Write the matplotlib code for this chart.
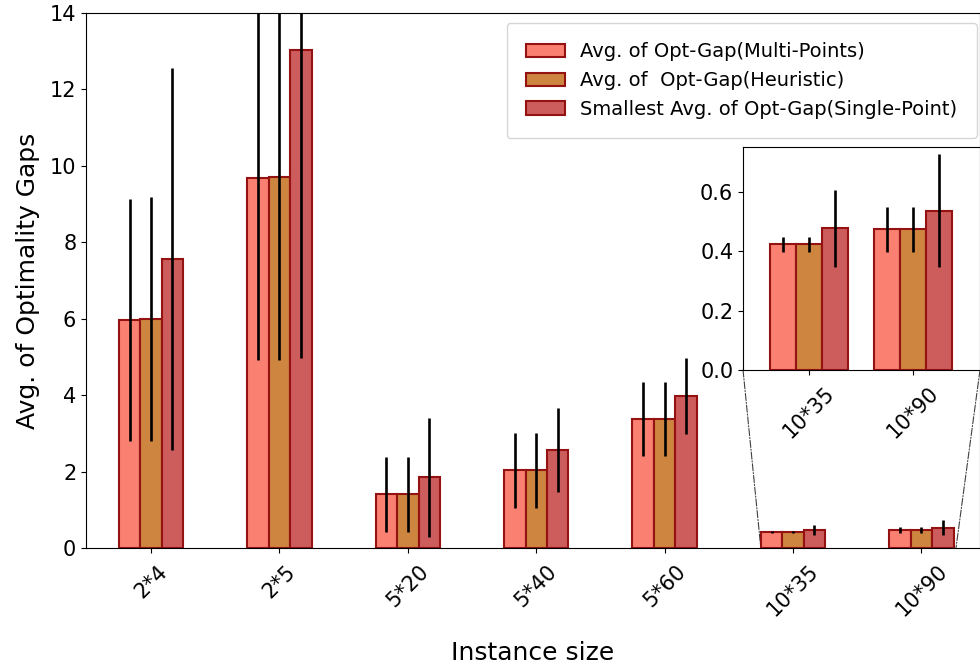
import matplotlib
matplotlib.use("Agg")
import matplotlib.pyplot as plt
import numpy as np
from matplotlib.patches import ConnectionPatch

categories = ['2*4', '2*5', '5*20', '5*40', '5*60', '10*35', '10*90']
multi = [5.97, 9.68, 1.40, 2.03, 3.37, 0.423, 0.473]
heur = [6.00, 9.71, 1.40, 2.03, 3.37, 0.423, 0.473]
single = [7.56, 13.03, 1.85, 2.56, 3.98, 0.477, 0.535]
multi_err = [3.17, 4.76, 0.97, 0.98, 0.97, 0.025, 0.075]
heur_err = [3.19, 4.78, 0.97, 0.98, 0.97, 0.025, 0.075]
single_err = [4.99, 8.07, 1.55, 1.10, 1.00, 0.13, 0.19]
labels = ['Avg. of Opt-Gap(Multi-Points)', 'Avg. of  Opt-Gap(Heuristic)',
          'Smallest Avg. of Opt-Gap(Single-Point)']
inset_idx = [5, 6]

colors = ['#fa8072', '#cd853f', '#cd5c5c']
edge = '#951212'

fig = plt.figure(figsize=(9.8, 6.69), dpi=100)
ax = fig.add_axes([0.0878, 0.1809, 0.9122, 0.7997])
x = np.arange(len(categories))
w = 0.167
series = [(multi, multi_err), (heur, heur_err), (single, single_err)]
for k, (vals, errs) in enumerate(series):
    ax.bar(x + (k - 1) * w, vals, w, yerr=errs, color=colors[k], edgecolor=edge,
           linewidth=1.5, label=labels[k], zorder=2,
           error_kw=dict(ecolor='black', elinewidth=1.9, capsize=0, zorder=3))
ax.set_xlim(-0.506, 6.456)
ax.set_ylim(0, 14)
ax.set_xticks(x)
ax.set_xticklabels(categories, rotation=45, fontsize=15)
ax.tick_params(axis='x', pad=6)
ax.tick_params(axis='y', labelsize=15)
ax.set_xlabel('Instance size', fontsize=18, labelpad=15)
ax.set_ylabel('Avg. of Optimality Gaps', fontsize=18, labelpad=7)
ax.legend(loc='upper right', fontsize=14, borderpad=1.0, borderaxespad=0,
          bbox_to_anchor=(977 / 980, (669 - 23) / 669), bbox_transform=fig.transFigure)

axin = fig.add_axes([0.7582, 0.4469, 0.2418, 0.3333])
wi = 0.25
xi = np.array(inset_idx)
for k, (vals, errs) in enumerate(series):
    axin.bar(xi + (k - 1) * wi, [vals[i] for i in inset_idx], wi,
             yerr=[errs[i] for i in inset_idx], color=colors[k], edgecolor=edge,
             linewidth=1.5, zorder=2,
             error_kw=dict(ecolor='black', elinewidth=1.9, capsize=0, zorder=3))
axin.set_xlim(4.36, 6.65)
axin.set_ylim(0, 0.75)
axin.set_xticks(xi)
axin.set_xticklabels([categories[i] for i in inset_idx], rotation=45, fontsize=15)
axin.tick_params(axis='x', pad=6)
axin.set_yticks([0.0, 0.2, 0.4, 0.6])
axin.tick_params(axis='y', labelsize=15)

for (xa, xb) in [((0, 0), 4.749), ((1, 0), 6.269)]:
    con = ConnectionPatch(xyA=xa, coordsA=axin.transAxes, xyB=(xb, 0), coordsB=ax.transData,
                          linestyle='-.', color='0.25', linewidth=0.8, zorder=1)
    ax.add_artist(con)

fig.savefig('out.png', dpi=100)
